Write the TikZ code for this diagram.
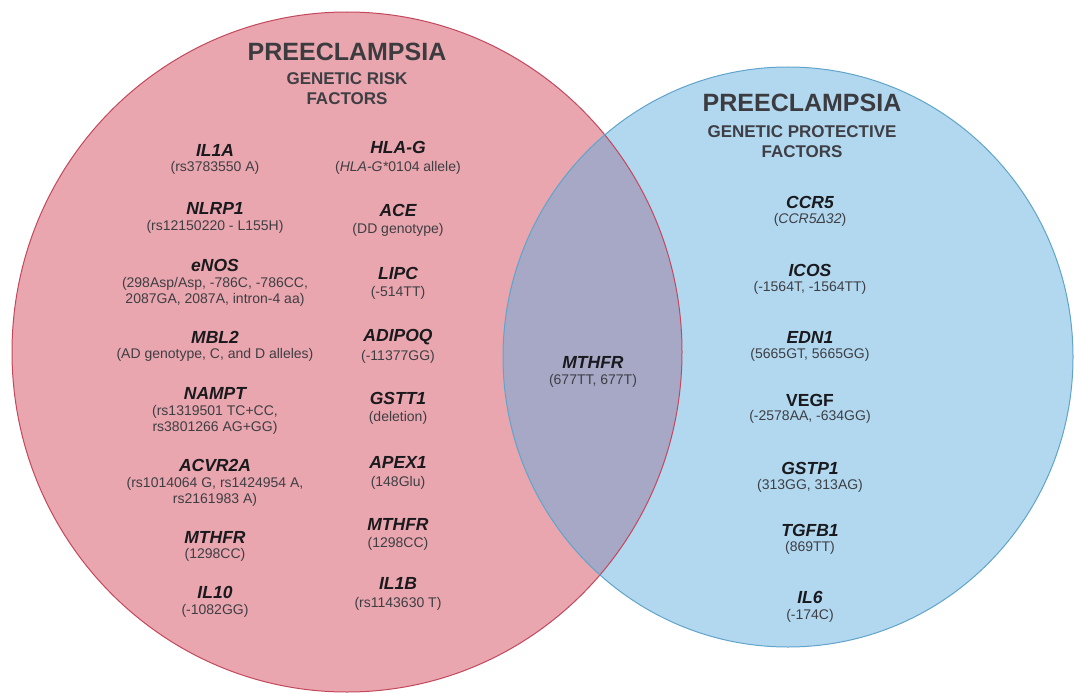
\documentclass[tikz,border=0pt]{standalone}
\usepackage{fontspec}
\setmainfont{Liberation Sans}
\definecolor{riskfill}{RGB}{233,166,174}
\definecolor{riskline}{RGB}{196,72,92}
\definecolor{protfill}{RGB}{178,216,240}
\definecolor{protline}{RGB}{96,164,204}
\definecolor{bothfill}{RGB}{166,168,198}
\definecolor{genetext}{RGB}{26,26,30}
\definecolor{vartext}{RGB}{62,62,68}

\begin{document}
\begin{tikzpicture}[x=1pt,y=-1pt,
  gene/.style={font=\fontsize{17.5}{19}\selectfont\bfseries\itshape,text=genetext,inner sep=0pt},
  upgene/.style={font=\fontsize{17.5}{19}\selectfont\bfseries,text=genetext,inner sep=0pt},
  variant/.style={font=\fontsize{14}{15.5}\selectfont,text=vartext,align=center,inner sep=0pt},
  bigtitle/.style={font=\fontsize{25}{27}\selectfont\bfseries,text=genetext!85,inner sep=0pt},
  subtitle/.style={font=\fontsize{17}{20}\selectfont\bfseries,text=vartext,align=center,inner sep=0pt}]
  \useasboundingbox (0,0) rectangle (1074,693);
  % the two sets and their overlap
  \fill[riskfill] (347,352) ellipse [x radius=335pt, y radius=340pt];
  \fill[protfill] (788,357) ellipse [x radius=285pt, y radius=290pt];
  \begin{scope}
    \clip (347,352) ellipse [x radius=335pt, y radius=340pt];
    \fill[bothfill] (788,357) ellipse [x radius=285pt, y radius=290pt];
  \end{scope}
  \draw[riskline,line width=1pt] (347,352) ellipse [x radius=335pt, y radius=340pt];
  \draw[protline,line width=1pt] (788,357) ellipse [x radius=285pt, y radius=290pt];

  % risk factors
  \node[bigtitle] (risk) at (347,52) {PREECLAMPSIA};
  \node[subtitle] (risk-sub) at (347,89) {GENETIC RISK\\FACTORS};

  \node[gene] (il1a) at (215,150) {IL1A};
  \node[variant] (il1a-var) at (215,168) {(rs3783550 A)};
  \node[gene] (nlrp1) at (215,208) {NLRP1};
  \node[variant] (nlrp1-var) at (215,227) {(rs12150220 - L155H)};
  \node[gene] (enos) at (215,265) {eNOS};
  \node[variant] (enos-var) at (215,292) {(298Asp/Asp, -786C, -786CC,\\2087GA, 2087A, intron-4 aa)};
  \node[gene] (mbl2) at (215,337) {MBL2};
  \node[variant] (mbl2-var) at (215,355) {(AD genotype, C, and D alleles)};
  \node[gene] (nampt) at (215,393) {NAMPT};
  \node[variant] (nampt-var) at (215,420) {(rs1319501 TC+CC,\\rs3801266 AG+GG)};
  \node[gene] (acvr2a) at (215,465) {ACVR2A};
  \node[variant] (acvr2a-var) at (215,492) {(rs1014064 G, rs1424954 A,\\rs2161983 A)};
  \node[gene] (mthfr-l) at (215,537) {MTHFR};
  \node[variant] (mthfr-l-var) at (215,555) {(1298CC)};
  \node[gene] (il10) at (215,592) {IL10};
  \node[variant] (il10-var) at (215,611) {(-1082GG)};

  \node[gene] (hlag) at (398,147) {HLA-G};
  \node[variant] (hlag-var) at (398,168) {(\textit{HLA-G*}0104 allele)};
  \node[gene] (ace) at (398,210) {ACE};
  \node[variant] (ace-var) at (398,230) {(DD genotype)};
  \node[gene] (lipc) at (398,273) {LIPC};
  \node[variant] (lipc-var) at (398,293) {(-514TT)};
  \node[gene] (adipoq) at (398,337) {ADIPOQ};
  \node[variant] (adipoq-var) at (398,357) {(-11377GG)};
  \node[gene] (gstt1) at (398,398) {GSTT1};
  \node[variant] (gstt1-var) at (398,418) {(deletion)};
  \node[gene] (apex1) at (398,462) {APEX1};
  \node[variant] (apex1-var) at (398,483) {(148Glu)};
  \node[gene] (mthfr-r) at (398,524) {MTHFR};
  \node[variant] (mthfr-r-var) at (398,544) {(1298CC)};
  \node[gene] (il1b) at (398,583) {IL1B};
  \node[variant] (il1b-var) at (398,604) {(rs1143630 T)};

  % shared
  \node[gene] (mthfr-c) at (593,362) {MTHFR};
  \node[variant] (mthfr-c-var) at (593,381) {(677TT, 677T)};

  % protective factors
  \node[bigtitle] (prot) at (802,103) {PREECLAMPSIA};
  \node[subtitle] (prot-sub) at (802,142) {GENETIC PROTECTIVE\\FACTORS};

  \node[gene] (ccr5) at (810,202) {CCR5};
  \node[variant] (ccr5-var) at (810,220) {(\textit{CCR5Δ32})};
  \node[gene] (icos) at (810,270) {ICOS};
  \node[variant] (icos-var) at (810,288) {(-1564T, -1564TT)};
  \node[gene] (edn1) at (810,337) {EDN1};
  \node[variant] (edn1-var) at (810,355) {(5665GT, 5665GG)};
  \node[upgene] (vegf) at (810,400) {VEGF};
  \node[variant] (vegf-var) at (810,417) {(-2578AA, -634GG)};
  \node[gene] (gstp1) at (810,468) {GSTP1};
  \node[variant] (gstp1-var) at (810,486) {(313GG, 313AG)};
  \node[gene] (tgfb1) at (810,530) {TGFB1};
  \node[variant] (tgfb1-var) at (810,548) {(869TT)};
  \node[gene] (il6) at (810,597) {IL6};
  \node[variant] (il6-var) at (810,616) {(-174C)};
\end{tikzpicture}
\end{document}
